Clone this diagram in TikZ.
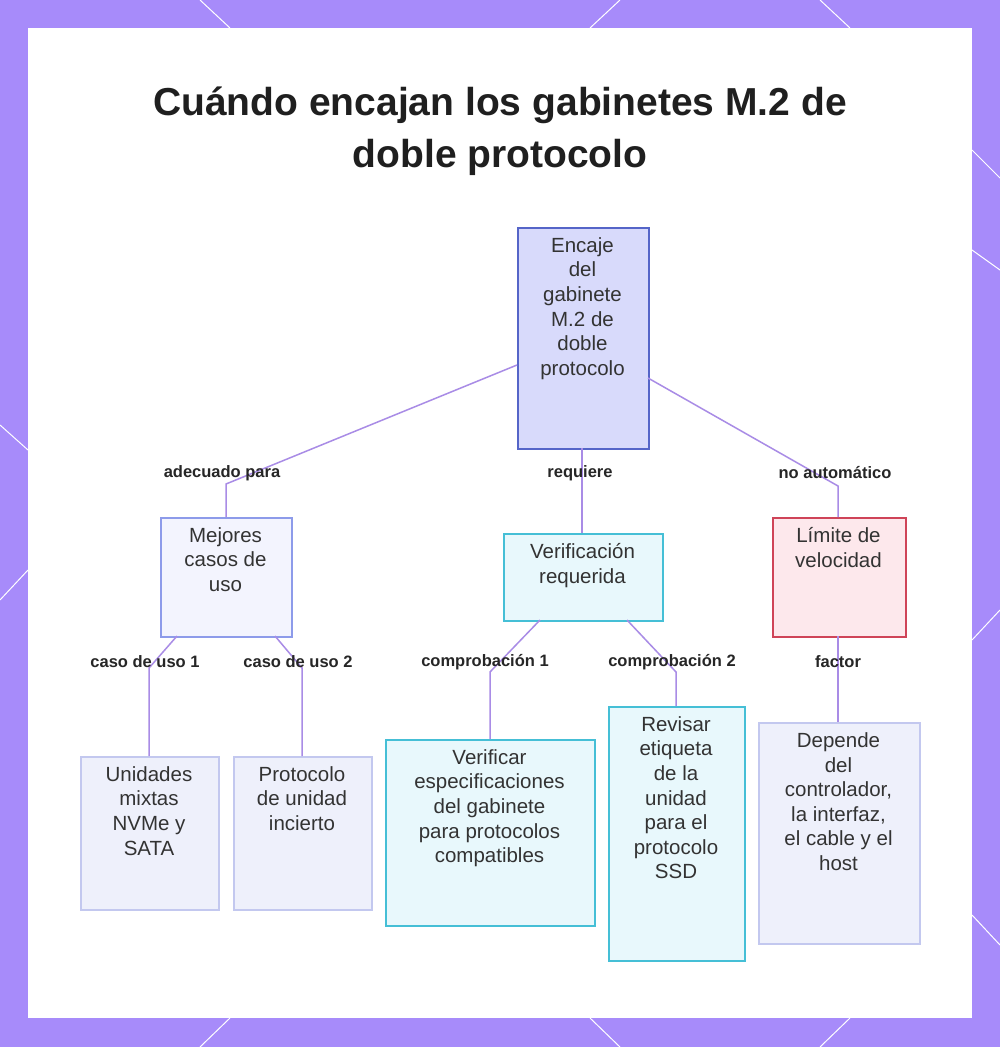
\documentclass[tikz,border=0pt]{standalone}
\usepackage{fontspec}
\setmainfont{Liberation Sans}
\begin{document}
\begin{tikzpicture}[x=1pt,y=-1pt,
  box/.style={draw,line width=1.5pt,anchor=north west,inner sep=0pt},
  txt/.style={align=center,font=\fontsize{20.5}{24.6}\selectfont,text=black!80,anchor=north},
  lbl/.style={font=\bfseries\fontsize{16.5}{18}\selectfont,text=black!85},
  edge/.style={draw=conn,line width=1.5pt}]
\definecolor{frame}{HTML}{A78BFA}
\definecolor{conn}{HTML}{A98CE6}
\definecolor{rootf}{HTML}{D8DAFB}\definecolor{rootd}{HTML}{5565C8}
\definecolor{pf}{HTML}{F3F4FE}\definecolor{pd}{HTML}{8D9BEA}
\definecolor{cf}{HTML}{E8F8FC}\definecolor{cd}{HTML}{45BFD6}
\definecolor{rf}{HTML}{FDE8EC}\definecolor{rd}{HTML}{CF4458}
\definecolor{lf}{HTML}{EEF0FB}\definecolor{ld}{HTML}{C3C8EF}
\useasboundingbox (0,0) rectangle (1000,1047);
\fill[frame] (0,0) rectangle (1000,1047);
\foreach \a/\b/\c/\d in {200/0/230/28, 590/28/620/0, 820/0/850/28, 972/150/1000/178, 972/250/1000/270, 0/425/28/450, 0/600/28/570, 972/640/1000/610, 972/915/1000/945, 200/1047/230/1018, 590/1018/620/1047, 820/1047/850/1018}
  \draw[white,line width=1pt] (\a,\b) -- (\c,\d);
\fill[white] (28,28) rectangle (972,1018);
\node[font=\bfseries\fontsize{39}{52}\selectfont,align=center,text=black!88] (title) at (500,131) {Cuándo encajan los gabinetes M.2 de\\doble protocolo};
% nodes
\node[box,fill=rootf,draw=rootd,minimum width=131pt,minimum height=221pt] (root) at (517,227) {};
\node[txt] at (582.5,234) {Encaje\\del\\gabinete\\M.2 de\\doble\\protocolo};
\node[box,fill=pf,draw=pd,minimum width=131pt,minimum height=119pt] (mej) at (160,517) {};
\node[txt] at (225.5,524) {Mejores\\casos de\\uso};
\node[box,fill=cf,draw=cd,minimum width=159pt,minimum height=87pt] (ver) at (503,533) {};
\node[txt] at (582.5,540) {Verificación\\requerida};
\node[box,fill=rf,draw=rd,minimum width=133pt,minimum height=119pt] (lim) at (772,517) {};
\node[txt] at (838.5,524) {Límite de\\velocidad};
\node[box,fill=lf,draw=ld,minimum width=138pt,minimum height=153pt] (uni) at (80,756) {};
\node[txt] at (149,763) {Unidades\\mixtas\\NVMe y\\SATA};
\node[box,fill=lf,draw=ld,minimum width=138pt,minimum height=153pt] (pro) at (233,756) {};
\node[txt] at (302,763) {Protocolo\\de unidad\\incierto};
\node[box,fill=cf,draw=cd,minimum width=209pt,minimum height=186pt] (vesp) at (385,739) {};
\node[txt] at (489.5,746) {Verificar\\especificaciones\\del gabinete\\para protocolos\\compatibles};
\node[box,fill=cf,draw=cd,minimum width=136pt,minimum height=254pt] (rev) at (608,706) {};
\node[txt] at (676,713) {Revisar\\etiqueta\\de la\\unidad\\para el\\protocolo\\SSD};
\node[box,fill=lf,draw=ld,minimum width=161pt,minimum height=221pt] (dep) at (758,722) {};
\node[txt] at (838.5,729) {Depende\\del\\controlador,\\la interfaz,\\el cable y el\\host};
% edges
\coordinate (r1) at (517,365); \coordinate (r2) at (582,448); \coordinate (r3) at (648,378);
\draw[edge] (r1) -- (226,484) -- (226,517);
\draw[edge] (r2) -- (582,533);
\draw[edge] (r3) -- (838,486) -- (838,517);
\draw[edge] (177,636) -- (149,668) -- (149,756);
\draw[edge] (275,636) -- (302,668) -- (302,756);
\draw[edge] (540,620) -- (490,672) -- (490,739);
\draw[edge] (627,620) -- (676,672) -- (676,706);
\draw[edge] (838,636) -- (838,722);
\node[lbl] (l1) at (222,473) {adecuado para};
\node[lbl] (l2) at (580,473) {requiere};
\node[lbl] (l3) at (835,473) {no automático};
\node[lbl] (l4) at (145,662) {caso de uso 1};
\node[lbl] (l5) at (298,662) {caso de uso 2};
\node[lbl] (l6) at (485,662) {comprobación 1};
\node[lbl] (l7) at (672,662) {comprobación 2};
\node[lbl] (l8) at (838,662) {factor};
\end{tikzpicture}
\end{document}
